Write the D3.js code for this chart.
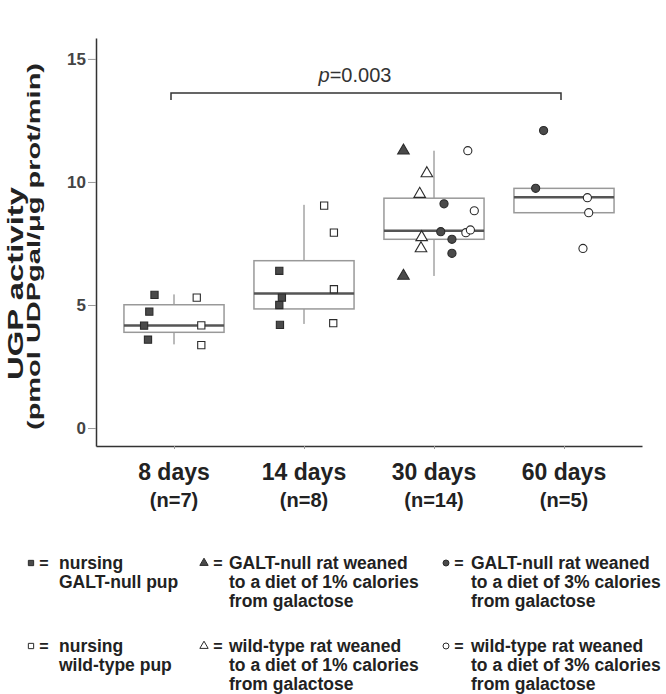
<!DOCTYPE html>
<meta charset="utf-8">
<script src="https://d3js.org/d3.v7.min.js"></script>
<style>
  body { margin: 0; background: #fff; font-family: "Liberation Sans", Arial, sans-serif; }
  svg { display: block; }
</style>
<div id="chart"></div>
<script>
// categories and labels
var categories = ["8 days", "14 days", "30 days", "60 days"];
var sampleSizes = ["(n=7)", "(n=8)", "(n=14)", "(n=5)"];
var yTicks = [0, 5, 10, 15];

// points: [day, UGP activity, jitter (fraction of step)]
var galtNullPup = [
  ["8 days", 5.41, -0.15], ["8 days", 4.73, -0.19], ["8 days", 4.16, -0.23], ["8 days", 3.59, -0.20],
  ["14 days", 6.39, -0.19], ["14 days", 5.30, -0.17], ["14 days", 5.00, -0.19], ["14 days", 4.19, -0.185]
];
var wildTypePup = [
  ["8 days", 5.30, 0.175], ["8 days", 4.17, 0.21], ["8 days", 3.37, 0.21],
  ["14 days", 9.04, 0.155], ["14 days", 7.94, 0.23], ["14 days", 5.64, 0.23], ["14 days", 4.26, 0.225]
];
var galtNull1 = [["30 days", 11.27, -0.235], ["30 days", 6.18, -0.235]];
var wildType1 = [["30 days", 10.35, -0.055], ["30 days", 9.51, -0.11], ["30 days", 7.75, -0.095], ["30 days", 7.30, -0.10]];
var galtNull3 = [
  ["30 days", 9.11, 0.077], ["30 days", 7.98, 0.052], ["30 days", 7.67, 0.138], ["30 days", 7.10, 0.138],
  ["60 days", 12.09, -0.157], ["60 days", 9.74, -0.218]
];
var wildType3 = [
  ["30 days", 11.27, 0.26], ["30 days", 8.83, 0.31], ["30 days", 7.94, 0.245], ["30 days", 8.05, 0.28],
  ["60 days", 9.36, 0.18], ["60 days", 8.75, 0.19], ["60 days", 7.30, 0.146]
];

// box plot statistics per category
var boxQ1 = [3.89, 4.84, 7.67, 8.75];
var boxMedian = [4.17, 5.47, 8.02, 9.38];
var boxQ3 = [5.01, 6.80, 9.34, 9.74];
var whiskerLow = [3.40, 4.23, 6.18, null];
var whiskerHigh = [5.43, 9.07, 11.27, null];

var pValueText = "=0.003";
var pBracketLevel = 13.62;

var width = 666, height = 694;

var svg = d3.select("#chart").append("svg")
  .attr("width", width)
  .attr("height", height);

var x = d3.scalePoint()
  .domain(categories)
  .range([96, 642])
  .padding(0.6);

var y = d3.scaleLinear()
  .domain([-0.73, 15.85])
  .range([446, 38]);

var step = x.step();
var boxW = step * 0.77;

// axes
var yAxis = svg.append("g")
  .attr("transform", "translate(96,0)")
  .call(d3.axisLeft(y).tickValues(yTicks).tickSize(8).tickPadding(2).tickSizeOuter(0));
yAxis.select(".domain").attr("stroke", "#333").attr("stroke-width", 1.5);
yAxis.selectAll(".tick line").attr("stroke", "#999").attr("stroke-width", 1);
yAxis.selectAll(".tick text")
  .attr("fill", "#444")
  .style("font-size", "17px")
  .style("font-weight", "bold")
  .style("font-family", "'Liberation Sans', Arial, sans-serif");

var xAxis = svg.append("g")
  .attr("transform", "translate(0,446)")
  .call(d3.axisBottom(x).tickSize(3).tickSizeOuter(0).tickFormat(""));
xAxis.select(".domain").attr("stroke", "#333").attr("stroke-width", 1.5);
xAxis.selectAll(".tick line").attr("stroke", "#999");

// category labels
var catLabels = svg.append("g");
categories.forEach(function(c, i) {
  catLabels.append("text")
    .attr("x", x(c))
    .attr("y", 480)
    .attr("text-anchor", "middle")
    .attr("fill", "#222")
    .style("font-size", "23px")
    .style("font-weight", "bold")
    .text(c);
  catLabels.append("text")
    .attr("x", x(c))
    .attr("y", 507)
    .attr("text-anchor", "middle")
    .attr("fill", "#222")
    .style("font-size", "20px")
    .style("font-weight", "bold")
    .text(sampleSizes[i]);
});

// y axis title
svg.append("text")
  .attr("transform", "translate(23,283.5) rotate(-90)")
  .attr("text-anchor", "middle")
  .attr("fill", "#222")
  .attr("textLength", 193)
  .attr("lengthAdjust", "spacingAndGlyphs")
  .style("font-size", "22px")
  .style("font-weight", "bold")
  .text("UGP activity");
svg.append("text")
  .attr("transform", "translate(40,246.5) rotate(-90)")
  .attr("text-anchor", "middle")
  .attr("fill", "#222")
  .attr("textLength", 367)
  .attr("lengthAdjust", "spacingAndGlyphs")
  .style("font-size", "19px")
  .style("font-weight", "bold")
  .text("(pmol UDPgal/μg prot/min)");

// boxes
var boxes = svg.append("g");
categories.forEach(function(c, i) {
  var cx = x(c);
  if (whiskerLow[i] !== null) {
    boxes.append("line")
      .attr("x1", cx).attr("x2", cx)
      .attr("y1", y(whiskerLow[i])).attr("y2", y(whiskerHigh[i]))
      .attr("stroke", "#777").attr("stroke-width", 1);
  }
  boxes.append("rect")
    .attr("x", cx - boxW / 2)
    .attr("y", y(boxQ3[i]))
    .attr("width", boxW)
    .attr("height", y(boxQ1[i]) - y(boxQ3[i]))
    .attr("fill", "#fff")
    .attr("stroke", "#999")
    .attr("stroke-width", 1.5);
  boxes.append("line")
    .attr("x1", cx - boxW / 2).attr("x2", cx + boxW / 2)
    .attr("y1", y(boxMedian[i])).attr("y2", y(boxMedian[i]))
    .attr("stroke", "#555").attr("stroke-width", 2.5);
});

// points
var darkFill = "#4a4a4a", darkStroke = "#2b2b2b";
function drawSeries(data, type, filled, size) {
  svg.append("g").selectAll("path")
    .data(data)
    .join("path")
    .attr("transform", function(d) {
      return "translate(" + (x(d[0]) + d[2] * step) + "," + y(d[1]) + ")";
    })
    .attr("d", d3.symbol().type(type).size(size))
    .attr("fill", filled ? darkFill : "#fff")
    .attr("stroke", darkStroke)
    .attr("stroke-width", 1.1);
}
drawSeries(galtNullPup, d3.symbolSquare, true, 52);
drawSeries(wildTypePup, d3.symbolSquare, false, 52);
drawSeries(galtNull1, d3.symbolTriangle, true, 58);
drawSeries(wildType1, d3.symbolTriangle, false, 58);
drawSeries(galtNull3, d3.symbolCircle, true, 52);
drawSeries(wildType3, d3.symbolCircle, false, 52);

// significance bracket
var bx1 = x(categories[0]) - 3, bx2 = x(categories[3]) - 3, by = y(pBracketLevel);
svg.append("path")
  .attr("d", "M" + bx1 + "," + (by + 7) + "V" + by + "H" + bx2 + "V" + (by + 7))
  .attr("fill", "none")
  .attr("stroke", "#333")
  .attr("stroke-width", 1.5);
var pt = svg.append("text")
  .attr("x", 355)
  .attr("y", by - 11)
  .attr("text-anchor", "middle")
  .attr("fill", "#333")
  .style("font-size", "20px");
pt.append("tspan").style("font-style", "italic").text("p");
pt.append("tspan").text(pValueText);

// legend
var legendSymbols = [d3.symbolSquare, d3.symbolTriangle, d3.symbolCircle];
var legendCols = [
  { sx: 31, ex: 44, tx: 59 },
  { sx: 204, ex: 218, tx: 229 },
  { sx: 446, ex: 459, tx: 471 }
];
var legendText = [
  [["nursing", "GALT-null pup"], ["GALT-null rat weaned", "to a diet of 1% calories", "from galactose"], ["GALT-null rat weaned", "to a diet of 3% calories", "from galactose"]],
  [["nursing", "wild-type pup"], ["wild-type rat weaned", "to a diet of 1% calories", "from galactose"], ["wild-type rat weaned", "to a diet of 3% calories", "from galactose"]]
];
var rowBase = [569, 652];
var legend = svg.append("g").style("font-size", "17.5px").style("font-weight", "bold").attr("fill", "#222");
legendText.forEach(function(row, r) {
  row.forEach(function(lines, c) {
    var col = legendCols[c];
    legend.append("path")
      .attr("transform", "translate(" + col.sx + "," + (rowBase[r] - 6) + ")")
      .attr("d", d3.symbol().type(legendSymbols[c]).size(c === 1 ? 30 : 28))
      .attr("fill", r === 0 ? darkFill : "#fff")
      .attr("stroke", darkStroke)
      .attr("stroke-width", 1);
    legend.append("text")
      .attr("x", col.ex)
      .attr("y", rowBase[r])
      .attr("text-anchor", "middle")
      .style("font-size", "16px")
      .text("=");
    lines.forEach(function(t, k) {
      legend.append("text")
        .attr("x", col.tx)
        .attr("y", rowBase[r] + k * 19)
        .text(t);
    });
  });
});
</script>
